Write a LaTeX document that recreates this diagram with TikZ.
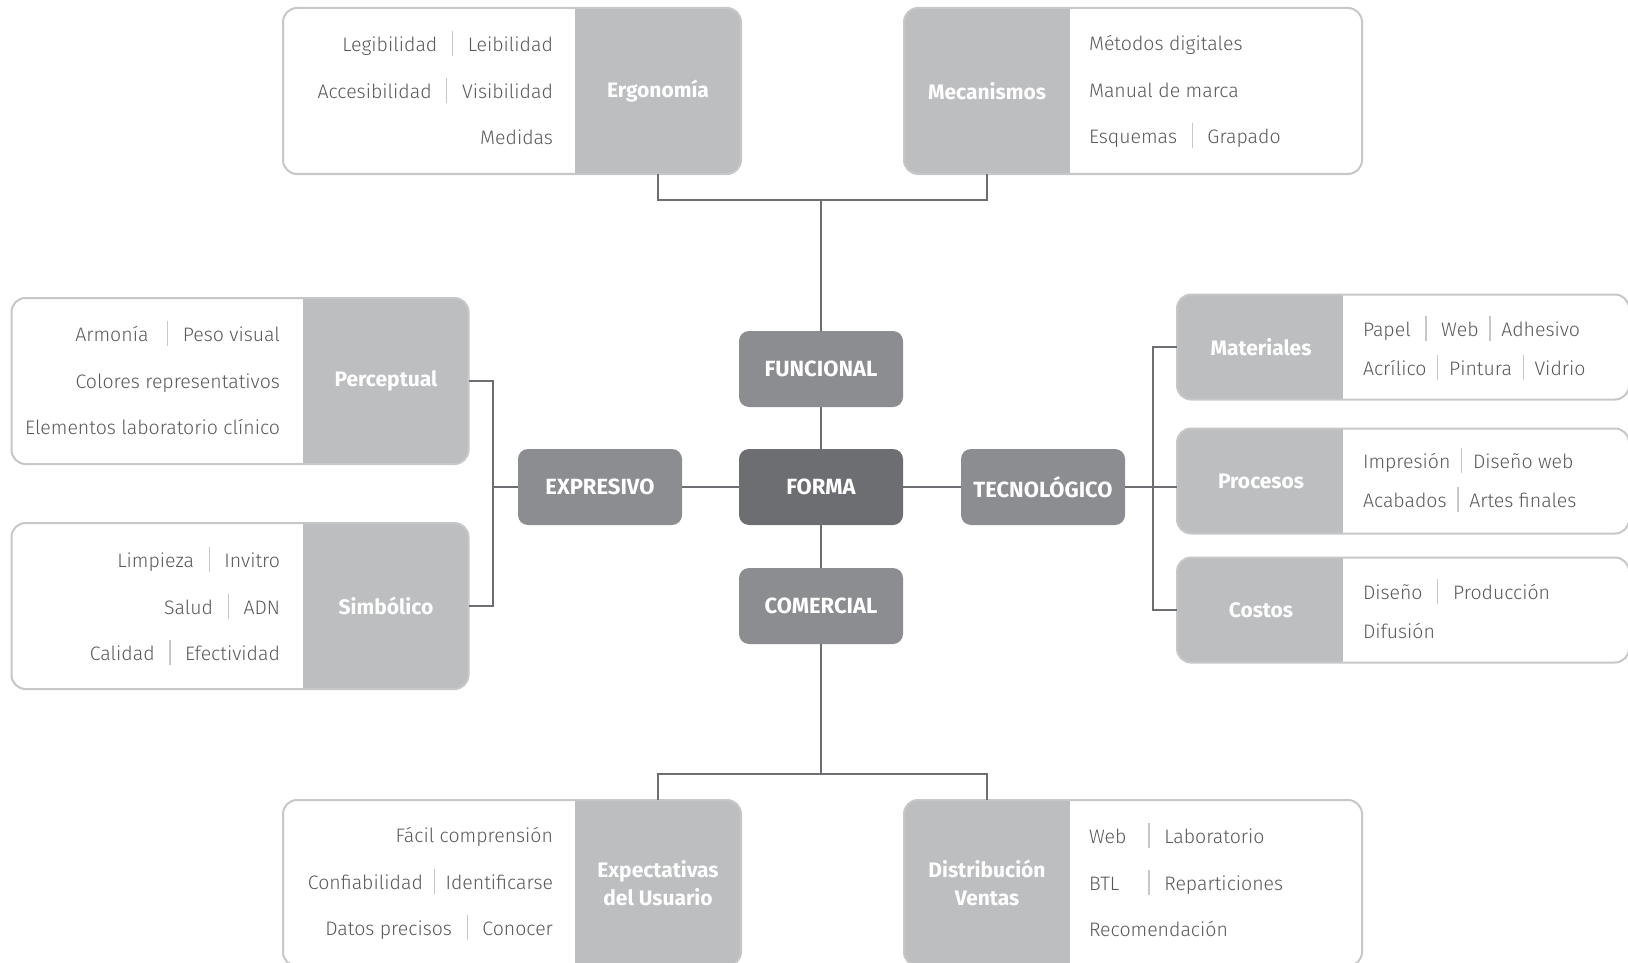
\documentclass[tikz,border=0pt]{standalone}
\usepackage{fontspec}
\setmainfont{Fira Sans}
\newfontfamily\itemfont{Fira Sans Light}
\definecolor{linkgray}{HTML}{6D6E71}
\definecolor{formagray}{HTML}{6D6E71}
\definecolor{nodegray}{HTML}{8C8D90}
\definecolor{taggray}{HTML}{BCBEC0}
\definecolor{bordergray}{HTML}{C6C7C9}
\definecolor{itemgray}{HTML}{58595B}
\definecolor{sepgray}{HTML}{C6C7C9}
\newcommand{\sep}{\hspace{0.75em}\textcolor{sepgray}{\rule[-4.5pt]{1.2pt}{25pt}}\hspace{0.75em}}
\newcommand{\tsep}{\hspace{0.55em}\textcolor{sepgray}{\rule[-4.5pt]{1.2pt}{25pt}}\hspace{0.55em}}
\begin{document}
\begin{tikzpicture}[x=1pt,y=-1pt]
\tikzstyle{every node}+=[inner sep=0pt,outer sep=0pt]
\tikzstyle{link}=[draw=linkgray,line width=2pt]
\tikzstyle{core}=[fill=nodegray,rounded corners=10pt,minimum width=164pt,minimum height=76pt,text=white,font=\bfseries\fontsize{22}{26}\selectfont]
\tikzstyle{panel}=[draw=bordergray,line width=2pt,fill=white,rounded corners=14pt,minimum height=166pt]
\tikzstyle{tagright}=[path picture={\fill[taggray,sharp corners] ([xshift=-166pt]path picture bounding box.north east) rectangle (path picture bounding box.south east);}]
\tikzstyle{tagleft}=[path picture={\fill[taggray,sharp corners] (path picture bounding box.north west) rectangle ([xshift=166pt]path picture bounding box.south west);}]
\tikzstyle{tag}=[minimum width=166pt,minimum height=166pt,text=white,align=center,font=\bfseries\fontsize{21}{28}\selectfont]
\tikzstyle{items}=[text=itemgray,font=\itemfont\fontsize{19.5}{46.5}\selectfont]
\tikzstyle{shortitems}=[text=itemgray,font=\itemfont\fontsize{19.5}{39}\selectfont,align=left,anchor=west]
\useasboundingbox (0,0) rectangle (1628,963);

\node[core] (func) at (821,369) {FUNCIONAL};
\node[core,fill=formagray] (forma) at (821,487) {FORMA};
\node[core] (comer) at (821,606) {COMERCIAL};
\node[core] (expr) at (600,487) {EXPRESIVO};
\node[core] (tecn) at (1043,487) {TECNOLÓGICO};

\node[panel,tagright,minimum width=458pt] (ergoBox) at (512,91) {};
\node[tag] (ergoTag) at (658,91) {Ergonomía};
\node[items,align=right,anchor=east] (ergoList) at (553,88) {Legibilidad\sep Leibilidad\\Accesibilidad\sep Visibilidad\\Medidas};

\node[panel,tagleft,minimum width=458pt] (mecaBox) at (1133,91) {};
\node[tag] (mecaTag) at (987,91) {Mecanismos};
\node[items,align=left,anchor=west] (mecaList) at (1089,92) {Métodos digitales\\Manual de marca\\Esquemas\sep Grapado};

\node[panel,tagright,minimum width=457pt] (percBox) at (240,381) {};
\node[tag] (percTag) at (386,381) {Perceptual};
\node[items,align=right,anchor=east] (percList) at (280,378) {Armonía\hspace{0.2em}\sep Peso visual\\Colores representativos\\Elementos laboratorio clínico};

\node[panel,tagright,minimum width=457pt] (simbBox) at (240,606) {};
\node[tag] (simbTag) at (386,606) {Simbólico};
\node[items,align=right,anchor=east] (simbList) at (280,606) {Limpieza\sep Invitro\\Salud\sep ADN\\Calidad\sep Efectividad};

\node[panel,tagleft,minimum width=452pt,minimum height=105pt] (mateBox) at (1403,347) {};
\node[tag,minimum height=105pt] (mateTag) at (1261,347) {Materiales};
\node[shortitems] (mateList) at (1363,348) {Papel\sep Web\tsep Adhesivo\\Acrílico\tsep Pintura\tsep Vidrio};

\node[panel,tagleft,minimum width=452pt,minimum height=105pt] (procBox) at (1403,481) {};
\node[tag,minimum height=105pt] (procTag) at (1261,481) {Procesos};
\node[shortitems] (procList) at (1363,480) {Impresión\tsep Diseño web\\Acabados\tsep Artes finales};

\node[panel,tagleft,minimum width=452pt,minimum height=105pt] (costBox) at (1403,610) {};
\node[tag,minimum height=105pt] (costTag) at (1261,610) {Costos};
\node[shortitems] (costList) at (1363,609) {Diseño\sep Producción\\Difusión};

\node[panel,tagright,minimum width=458pt] (expeBox) at (512,883) {};
\node[tag] (expeTag) at (658,883) {Expectativas\\del Usuario};
\node[items,align=right,anchor=east] (expeList) at (553,884) {Fácil comprensión\\Confiabilidad\tsep Identificarse\\Datos precisos\sep Conocer};

\node[panel,tagleft,minimum width=458pt] (distBox) at (1133,883) {};
\node[tag] (distTag) at (987,883) {Distribución\\Ventas};
\node[items,align=left,anchor=west] (distList) at (1089,880) {\makebox[2.3em][l]{Web}\sep Laboratorio\\\makebox[2.3em][l]{BTL}\sep Reparticiones\\Recomendación};

\coordinate (topJoin) at (821,200);
\coordinate (botJoin) at (821,774);
\coordinate (leftJoin) at (493,487);
\coordinate (rightJoin) at (1153,487);

\draw[link] (ergoTag.south) |- (topJoin) -| (mecaTag.south);
\draw[link] (topJoin) -- (func.north);
\draw[link] (func.south) -- (forma.north);
\draw[link] (forma.south) -- (comer.north);
\draw[link] (comer.south) -- (botJoin);
\draw[link] (expeTag.north) |- (botJoin) -| (distTag.north);
\draw[link] (expr.east) -- (forma.west);
\draw[link] (forma.east) -- (tecn.west);
\draw[link] (expr.west) -- (leftJoin);
\draw[link] (percBox.east) -| (leftJoin) |- (simbBox.east);
\draw[link] (tecn.east) -- (rightJoin) -- (rightJoin -| procBox.west);
\draw[link] (mateBox.west) -| (rightJoin) |- (costBox.west);
\end{tikzpicture}
\end{document}
